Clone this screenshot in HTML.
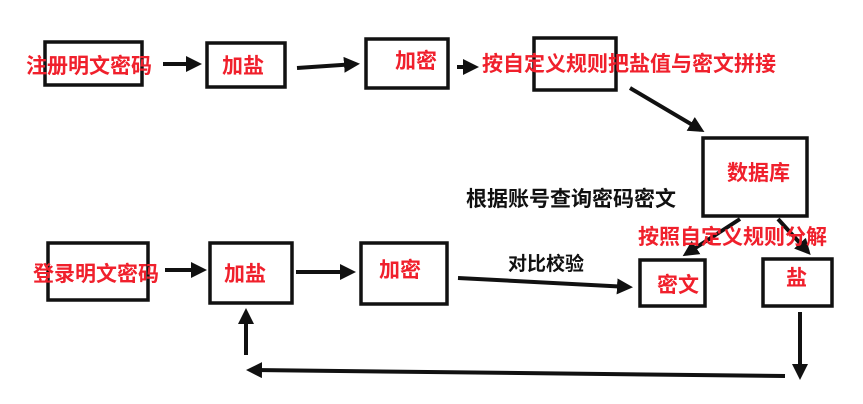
<!DOCTYPE html>
<html><head><meta charset="utf-8"><style>
html,body{margin:0;padding:0;background:#fff;}
svg{display:block;}
.r{fill:#f0202c;font-family:"Liberation Sans","Noto Sans CJK SC",sans-serif;font-weight:bold;}
.k{fill:#111;font-family:"Liberation Sans","Noto Sans CJK SC",sans-serif;font-weight:bold;}
rect{fill:#fff;stroke:#111;stroke-width:3.5;}
line{stroke:#111;stroke-width:4;}
</style></head><body>
<svg width="863" height="404" viewBox="0 0 863 404" xmlns="http://www.w3.org/2000/svg">
<defs><marker id="a" markerWidth="4" markerHeight="4" refX="3" refY="2" orient="auto" markerUnits="strokeWidth"><path d="M0,0 L4,2 L0,4 Z" fill="#111"/></marker></defs>
<rect x="45" y="42" width="97" height="43"/>
<rect x="207" y="43" width="78" height="44"/>
<rect x="366" y="39" width="82" height="49"/>
<rect x="534" y="38" width="82" height="52"/>
<rect x="703" y="138" width="104" height="78"/>
<rect x="48" y="243" width="100" height="57"/>
<rect x="210" y="243" width="82" height="60"/>
<rect x="361" y="243" width="86" height="61"/>
<rect x="640" y="260" width="65" height="46"/>
<rect x="763" y="259" width="69" height="47"/>
<line x1="163" y1="64" x2="198" y2="64" marker-end="url(#a)"/>
<line x1="297" y1="68" x2="356" y2="64" marker-end="url(#a)"/>
<line x1="457" y1="67" x2="475" y2="67" marker-end="url(#a)"/>
<line x1="630" y1="88" x2="701" y2="130" marker-end="url(#a)"/>
<line x1="740" y1="219" x2="686" y2="254" marker-end="url(#a)"/>
<line x1="778" y1="219" x2="808" y2="252" marker-end="url(#a)"/>
<line x1="165" y1="270" x2="203" y2="270" marker-end="url(#a)"/>
<line x1="296" y1="272" x2="352" y2="272" marker-end="url(#a)"/>
<line x1="458" y1="278" x2="629" y2="287" marker-end="url(#a)"/>
<line x1="800" y1="312" x2="800" y2="376" marker-end="url(#a)"/>
<line x1="785" y1="376" x2="250" y2="370" marker-end="url(#a)"/>
<line x1="246" y1="355" x2="246" y2="312" marker-end="url(#a)"/>
<text class="r" x="26" y="73" font-size="21">注册明文密码</text>
<text class="r" x="222" y="73" font-size="21">加盐</text>
<text class="r" x="395" y="68" font-size="21">加密</text>
<text class="r" x="482" y="71" font-size="21">按自定义规则把盐值与密文拼接</text>
<text class="r" x="727" y="180" font-size="21">数据库</text>
<text class="k" x="466" y="206" font-size="21">根据账号查询密码密文</text>
<text class="r" x="638" y="244" font-size="21">按照自定义规则分解</text>
<text class="r" x="33" y="281" font-size="21">登录明文密码</text>
<text class="r" x="224" y="281" font-size="21">加盐</text>
<text class="r" x="379" y="277" font-size="21">加密</text>
<text class="k" x="508" y="270" font-size="19">对比校验</text>
<text class="r" x="657" y="292" font-size="21">密文</text>
<text class="r" x="786" y="285" font-size="21">盐</text>
</svg>
</body></html>
